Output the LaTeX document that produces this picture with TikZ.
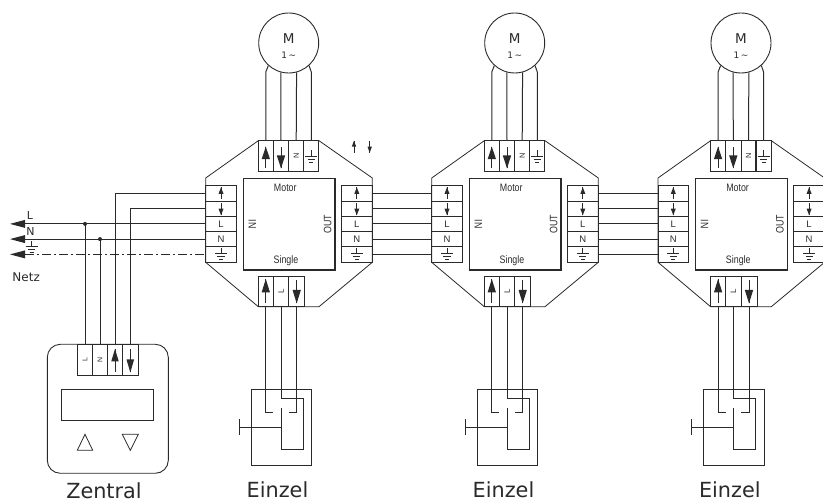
\documentclass[tikz,border=0pt]{standalone}
\usepackage{fontspec}
\setmainfont{DejaVu Sans}
\newfontfamily\narrowfont[FakeStretch=0.82]{Liberation Sans}
\newfontfamily\armfont{Liberation Sans}
\definecolor{ink}{HTML}{2A2A2A}
\tikzset{
  wire/.style={draw=ink,line width=1pt},
  cell/.style={draw=ink,line width=1pt,rectangle,inner sep=0pt,outer sep=0pt,font=\armfont\fontsize{9.5}{9.5}\selectfont,text=ink},
  bigtxt/.style={font=\fontsize{20.8}{20.8}\selectfont,text=ink,inner sep=0pt,anchor=base},
  narrowtxt/.style={font=\narrowfont\fontsize{10.8}{10.8}\selectfont,text=ink,inner sep=0pt},
}
% arrow: x, tip y, tail y, head length (signed by tip/tail), half width
\newcommand{\harrow}[5]{%
  \draw[ink,line width=0.8pt] (#1,#2) -- (#1,#3);
  \fill[ink] (#1,#2) -- ({#1-#5},{#2+#4}) -- ({#1+#5},{#2+#4}) -- cycle;}
\newcommand{\earth}[2]{% x, y of the top of the stem
  \draw[ink,line width=0.7pt] (#1,#2) -- (#1,{#2+5.5})
   ({#1-6},{#2+5.5}) -- ({#1+6},{#2+5.5})
   ({#1-3.6},{#2+8.8}) -- ({#1+3.6},{#2+8.8})
   ({#1-2},{#2+11.8}) -- ({#1+2},{#2+11.8});}
\newcommand{\sidecells}[2]{% prefix, centre x
  \node[cell,minimum width=30.6pt,minimum height=15.2pt] (#1a) at (#2,193.5) {};
  \node[cell,minimum width=30.6pt,minimum height=15.2pt] (#1b) at (#2,208.7) {};
  \node[cell,minimum width=30.6pt,minimum height=15.2pt] (#1c) at (#2,223.9) {L};
  \node[cell,minimum width=30.6pt,minimum height=15.2pt] (#1d) at (#2,239.1) {N};
  \node[cell,minimum width=30.6pt,minimum height=16pt] (#1e) at (#2,254.4) {};
  \harrow{#2}{187.3}{199.5}{6.5}{2.5}
  \harrow{#2}{215.2}{203}{-6.5}{2.5}
  \earth{#2}{248}}
\newcommand{\modul}[2]{% prefix, x shift
\begin{scope}[shift={(#2,0)}]
  \draw[ink,line width=0.8pt] (258.3,140.7) -- (205.7,178) -- (205.7,262.3) -- (258.3,306.7) -- (319,306.7)
     -- (372.3,262.3) -- (372.3,178) -- (319,140.7);
  \node[cell,minimum width=91.7pt,minimum height=91.3pt,line width=1.1pt] (#1C) at (289.15,224.35) {};
  \node[narrowtxt] (#1mot) at (285.3,187.8) {Motor};
  \node[narrowtxt] (#1sgl) at (286,260.6) {Single};
  \node[narrowtxt,rotate=-90] (#1in) at (252.4,224.3) {IN};
  \node[narrowtxt,rotate=90] (#1out) at (327.6,224.3) {OUT};
  \sidecells{#1l}{221}
  \sidecells{#1r}{356.8}
  % top terminal
  \node[cell,minimum width=15pt,minimum height=31pt] (#1t1) at (265.8,156.2) {};
  \node[cell,minimum width=15.4pt,minimum height=31pt] (#1t2) at (281,156.2) {};
  \node[cell,minimum width=15pt,minimum height=31pt] (#1t3) at (296.2,156.2) {\rotatebox{90}{\fontsize{7.5}{7.5}\selectfont N}};
  \node[cell,minimum width=15.3pt,minimum height=31pt] (#1t4) at (311.3,156.2) {};
  \harrow{265.8}{146.7}{168}{12.5}{4.2}
  \harrow{281}{168.4}{146.7}{-13}{4.2}
  \earth{311.3}{150.5}
  % motor
  \node[circle,draw=ink,line width=0.9pt,minimum size=60pt,inner sep=0pt] (#1M) at (288.7,43) {};
  \node[inner sep=0pt,text=ink,font=\fontsize{13.5}{13.5}\selectfont] (#1Mt) at (288.7,38.5) {M};
  \node[inner sep=0pt,text=ink,font=\fontsize{9}{9}\selectfont] (#1Mn) at (288.7,55.5) {1\,∼};
  \coordinate (#1kl) at (265.8,72);
  \coordinate (#1kr) at (311.3,72);
  \draw[wire] (#1t1.north) -- (#1kl) -- (#1M.-132);
  \draw[wire] (#1t2.north) -- (#1M.-105);
  \draw[wire] (#1t3.north) -- (#1M.-75);
  \draw[wire] (#1t4.north) -- (#1kr) -- (#1M.-48);
  % bottom terminal
  \node[cell,minimum width=15pt,minimum height=30pt] (#1b1) at (265.8,291.7) {};
  \node[cell,minimum width=15.4pt,minimum height=30pt] (#1b2) at (281,291.7) {\rotatebox{90}{\fontsize{8}{8}\selectfont L}};
  \node[cell,minimum width=16pt,minimum height=30pt] (#1b3) at (296.7,291.7) {};
  \harrow{265.8}{279}{302.7}{13.5}{4.2}
  \harrow{296.7}{303.4}{280}{-13.5}{4.2}
  % single switch
  \node[cell,minimum width=60.7pt,minimum height=76.4pt] (#1S) at (281.35,427.5) {};
  \coordinate (#1s1) at (265.8,412.3);
  \coordinate (#1s1e) at (273.3,412.3);
  \coordinate (#1s3) at (296.7,412.3);
  \coordinate (#1s3e) at (288.7,412.3);
  \coordinate (#1s2a) at (281,398.7);
  \coordinate (#1s2b) at (303.3,398.7);
  \coordinate (#1s2c) at (303.3,450);
  \coordinate (#1s2d) at (281,450);
  \coordinate (#1s2e) at (281,408.3);
  \coordinate (#1h) at (281,427.7);
  \coordinate (#1hb) at (239.3,427.7);
  \coordinate (#1ht) at (239.3,419.3);
  \coordinate (#1hu) at (239.3,435.2);
  \draw[wire] (#1b1.south) -- (#1s1) -- (#1s1e);
  \draw[wire] (#1b3.south) -- (#1s3) -- (#1s3e);
  \draw[wire] (#1b2.south) -- (#1s2a) -- (#1s2b) -- (#1s2c) -- (#1s2d) -- (#1s2e);
  \draw[wire] (#1h) -- (#1hb);
  \draw[wire] (#1ht) -- (#1hu);
  \node[bigtxt] (#1lab) at (277.5,498) {Einzel};
\end{scope}}
\begin{document}
\begin{tikzpicture}[x=1pt,y=-1pt]
\useasboundingbox (0,0) rectangle (823,502);
\clip (0,0) rectangle (823,502);
\modul{A}{0}
\modul{B}{226}
\modul{D}{452.3}
\foreach \c in {a,...,d}{\draw[wire] (Ar\c.east) -- (Bl\c.west); \draw[wire] (Br\c.east) -- (Dl\c.west);}
\draw[wire] (Are.east |- Are.center) -- (Ble.west |- Are.center);
\draw[wire] (Bre.east |- Bre.center) -- (Dle.west |- Bre.center);
% loose arrows
\harrow{354}{140.7}{152.7}{6}{2.2}
\harrow{369.7}{152.7}{140.7}{-6}{2.2}
% central unit
\node[draw=ink,line width=0.9pt,rounded corners=13pt,minimum width=121pt,minimum height=129pt,inner sep=0pt] (Z) at (107.8,408.8) {};
\node[cell,minimum width=15.4pt,minimum height=30.7pt] (z1) at (85,359.7) {\rotatebox{90}{\fontsize{7}{7}\selectfont L}};
\node[cell,minimum width=14.6pt,minimum height=30.7pt] (z2) at (100,359.7) {\rotatebox{90}{\fontsize{7}{7}\selectfont N}};
\node[cell,minimum width=15.4pt,minimum height=30.7pt] (z3) at (115,359.7) {};
\node[cell,minimum width=16pt,minimum height=30.7pt] (z4) at (130.7,359.7) {};
\harrow{115}{349}{372}{12.5}{3.8}
\harrow{130.3}{372.5}{349}{-13}{3.8}
\node[cell,minimum width=92pt,minimum height=31.4pt] (disp) at (107.7,405) {};
\draw[ink,line width=0.8pt] (85,434.3) -- (92.7,450.3) -- (77.3,450.3) -- cycle;
\draw[ink,line width=0.8pt] (130.3,450.3) -- (138.3,434.3) -- (122.3,434.3) -- cycle;
\node[bigtxt] (zlab) at (104,498.5) {Zentral};
% mains
\coordinate (eL) at (25,223.9);
\coordinate (eN) at (25,239.1);
\coordinate (eE) at (25,254.4);
\coordinate (dL) at (85,223.9);
\coordinate (dN) at (100,239.1);
\fill[ink] (10,223.9) -- (25,219.9) -- (25,227.9) -- cycle;
\fill[ink] (10,239.1) -- (25,235.1) -- (25,243.1) -- cycle;
\fill[ink] (10,254.4) -- (25,250.4) -- (25,258.4) -- cycle;
\draw[wire] (eL) -- (Alc.west);
\draw[wire] (eN) -- (Ald.west);
\draw[wire,dash pattern=on 9pt off 3pt on 2pt off 3pt] (eE) -- (Ale.west |- eE);
\draw[wire] (z1.north) -- (dL);
\draw[wire] (z2.north) -- (dN);
\draw[wire] (z3.north) -- (z3.north |- Ala.center) -- (Ala.west);
\draw[wire] (z4.north) -- (z4.north |- Alb.center) -- (Alb.west);
\fill[ink] (dL) circle (2pt);
\fill[ink] (dN) circle (2pt);
\node[inner sep=0pt,anchor=base,text=ink,font=\fontsize{11}{11}\selectfont] (tL) at (30,220) {L};
\node[inner sep=0pt,anchor=base,text=ink,font=\fontsize{11}{11}\selectfont] (tN) at (30.5,235.5) {N};
\earth{31.7}{240.8}
\node[inner sep=0pt,anchor=base west,text=ink,font=\fontsize{12}{12}\selectfont] (netz) at (12.3,282) {Netz};
\end{tikzpicture}
\end{document}
